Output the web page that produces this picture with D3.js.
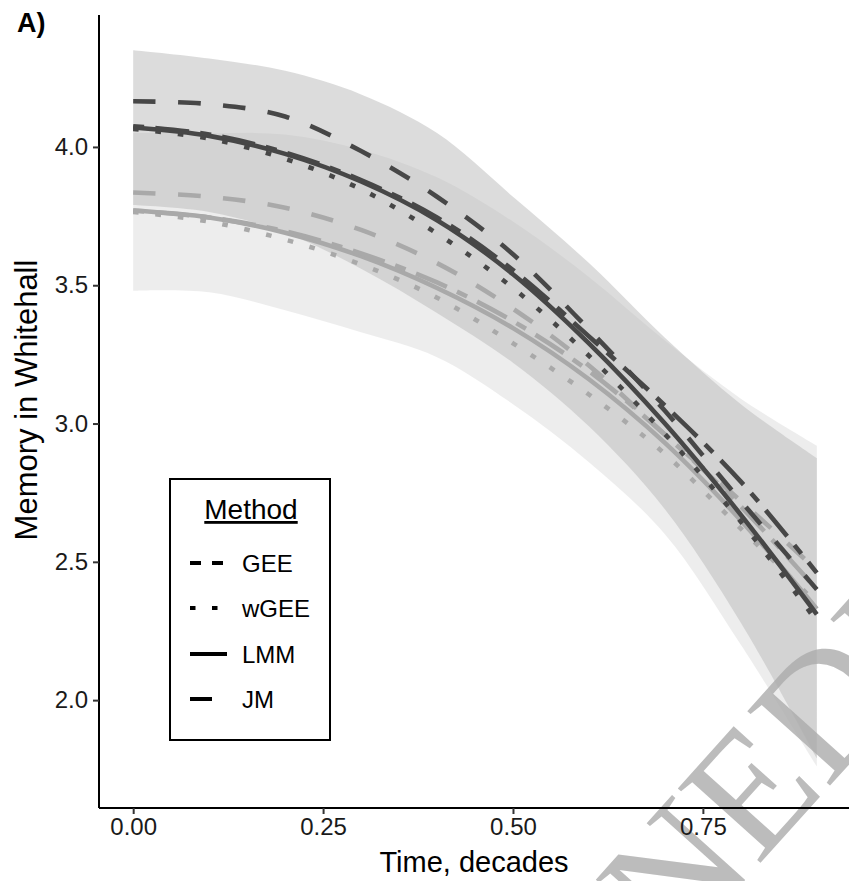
<!DOCTYPE html>
<html><head><meta charset="utf-8">
<script src="https://cdn.jsdelivr.net/npm/d3@7"></script>
<style>body{margin:0;background:#fff}svg{display:block;font-family:"Liberation Sans",Arial,sans-serif}</style>
</head><body><svg id="c" width="849" height="881"></svg>
<script>
// ---- data ----
const timePoints = [0, 0.1, 0.2, 0.3, 0.4, 0.5, 0.6, 0.7, 0.8, 0.9];
// confidence ribbons
const darkUpper  = [4.35, 4.32, 4.275, 4.19, 4.05, 3.82, 3.58, 3.31, 3.07, 2.875];
const darkLower  = [3.79, 3.765, 3.69, 3.56, 3.40, 3.22, 2.99, 2.69, 2.28, 1.79];
const lightUpper = [4.05, 4.05, 4.045, 3.99, 3.89, 3.73, 3.53, 3.30, 3.09, 2.92];
const lightLower = [3.48, 3.475, 3.41, 3.33, 3.24, 3.07, 2.86, 2.60, 2.20, 1.76];
// dark group lines
const darkGEE  = [4.165, 4.155, 4.11, 3.985, 3.82, 3.612, 3.34, 3.046, 2.72, 2.40];
const darkWGEE = [4.065, 4.03, 3.957, 3.847, 3.687, 3.49, 3.245, 2.962, 2.645, 2.285];
const darkLMM  = [4.07, 4.04, 3.975, 3.875, 3.735, 3.54, 3.29, 3.0, 2.67, 2.31];
const darkJM   = [4.075, 4.045, 3.98, 3.88, 3.745, 3.555, 3.315, 3.065, 2.79, 2.46];
// light group lines
const lightGEE  = [3.835, 3.82, 3.78, 3.70, 3.58, 3.415, 3.21, 2.96, 2.72, 2.47];
const lightWGEE = [3.765, 3.73, 3.665, 3.575, 3.455, 3.29, 3.105, 2.89, 2.62, 2.35];
const lightLMM  = [3.77, 3.745, 3.69, 3.605, 3.49, 3.345, 3.16, 2.93, 2.65, 2.33];
const lightJM   = [3.77, 3.745, 3.695, 3.615, 3.51, 3.37, 3.19, 2.96, 2.70, 2.40];
// axes / legend
const xTicks = [0, 0.25, 0.5, 0.75];
const yTicks = [2.0, 2.5, 3.0, 3.5, 4.0];
const methods = ["GEE", "wGEE", "LMM", "JM"];

// ---- drawing ----
const svg = d3.select("#c");
const x = d3.scaleLinear().domain([-0.045, 0.945]).range([99, 851]);
const y = d3.scaleLinear().domain([1.61, 4.477]).range([808, 15]);

const darkCol = "#474747", lightCol = "#a9a9a9";
const dashes = {GEE: "22.5,22.5", wGEE: "5.6,16.9", LMM: null, JM: "11.2,11.2,33.6,11.2"};
const curve = d3.curveCatmullRom.alpha(0.5);

const area = (lo, hi) => d3.area().curve(curve)
  .x((d, i) => x(timePoints[i])).y0((d, i) => y(lo[i])).y1((d, i) => y(hi[i]))(timePoints);
const line = vals => d3.line().curve(curve)
  .x((d, i) => x(timePoints[i])).y((d, i) => y(vals[i]))(timePoints);

const plot = svg.append("g");
plot.append("path").attr("d", area(lightLower, lightUpper)).attr("fill", "rgb(185,185,185)").attr("fill-opacity", 0.26);
plot.append("path").attr("d", area(darkLower, darkUpper)).attr("fill", "rgb(185,185,185)").attr("fill-opacity", 0.5);

const groups = [
  {col: lightCol, series: {GEE: lightGEE, wGEE: lightWGEE, LMM: lightLMM, JM: lightJM}},
  {col: darkCol, series: {GEE: darkGEE, wGEE: darkWGEE, LMM: darkLMM, JM: darkJM}}
];
groups.forEach(g => {
  ["LMM", "wGEE", "JM", "GEE"].forEach(m => {
    plot.append("path").attr("d", line(g.series[m])).attr("fill", "none")
      .attr("stroke", g.col).attr("stroke-width", 4.6)
      .attr("stroke-dasharray", dashes[m]).attr("stroke-linecap", "butt");
  });
});

// watermark
svg.append("text").attr("transform", "translate(593,1049) rotate(-48)")
  .attr("font-family", "Liberation Serif, Times New Roman, serif").attr("font-size", 170)
  .attr("fill", "#ababab").attr("fill-opacity", 0.8).text("UNEDITED");

// axes
const yAxis = svg.append("g").attr("transform", "translate(99,0)")
  .call(d3.axisLeft(y).tickValues(yTicks).tickFormat(d3.format(".1f")).tickSizeOuter(0).tickSize(6).tickPadding(5));
const xAxis = svg.append("g").attr("transform", "translate(0,808)")
  .call(d3.axisBottom(x).tickValues(xTicks).tickFormat(d3.format(".2f")).tickSizeOuter(0).tickSize(6).tickPadding(4));
[yAxis, xAxis].forEach(a => {
  a.select(".domain").attr("stroke", "#000").attr("stroke-width", 2);
  a.selectAll(".tick line").attr("stroke", "#333").attr("stroke-width", 2);
  a.selectAll(".tick text").attr("fill", "#1a1a1a").attr("font-size", 24).attr("font-family", "Liberation Sans, Arial, sans-serif");
});
yAxis.select(".domain").attr("d", "M0,15V808");
xAxis.select(".domain").attr("d", "M99,0H849");

svg.append("text").attr("x", 474).attr("y", 872).attr("text-anchor", "middle")
  .attr("font-size", 29).attr("fill", "#000").text("Time, decades");
svg.append("text").attr("transform", "translate(37,400) rotate(-90)").attr("text-anchor", "middle")
  .attr("font-size", 31).attr("fill", "#000").text("Memory in Whitehall");
svg.append("text").attr("x", 17).attr("y", 32).attr("font-size", 27).attr("font-weight", "bold")
  .attr("fill", "#000").text("A)");

// legend
const lg = svg.append("g");
lg.append("rect").attr("x", 170).attr("y", 479).attr("width", 160).attr("height", 261)
  .attr("fill", "#fff").attr("stroke", "#000").attr("stroke-width", 2);
lg.append("text").attr("x", 251).attr("y", 519).attr("text-anchor", "middle").attr("font-size", 28)
  .attr("text-decoration", "underline").attr("fill", "#000").text("Method");
const keyDash = {GEE: "11,11", wGEE: "5.5,16.5", LMM: null, JM: "22,30"};
const keyY = [563, 608, 654, 699];
methods.forEach((m, i) => {
  lg.append("line").attr("x1", 190).attr("x2", 227).attr("y1", keyY[i]).attr("y2", keyY[i])
    .attr("stroke", "#000").attr("stroke-width", 4).attr("stroke-dasharray", keyDash[m]);
  lg.append("text").attr("x", 242).attr("y", keyY[i] + 9).attr("font-size", 24).attr("fill", "#000").text(m);
});
</script></body></html>
